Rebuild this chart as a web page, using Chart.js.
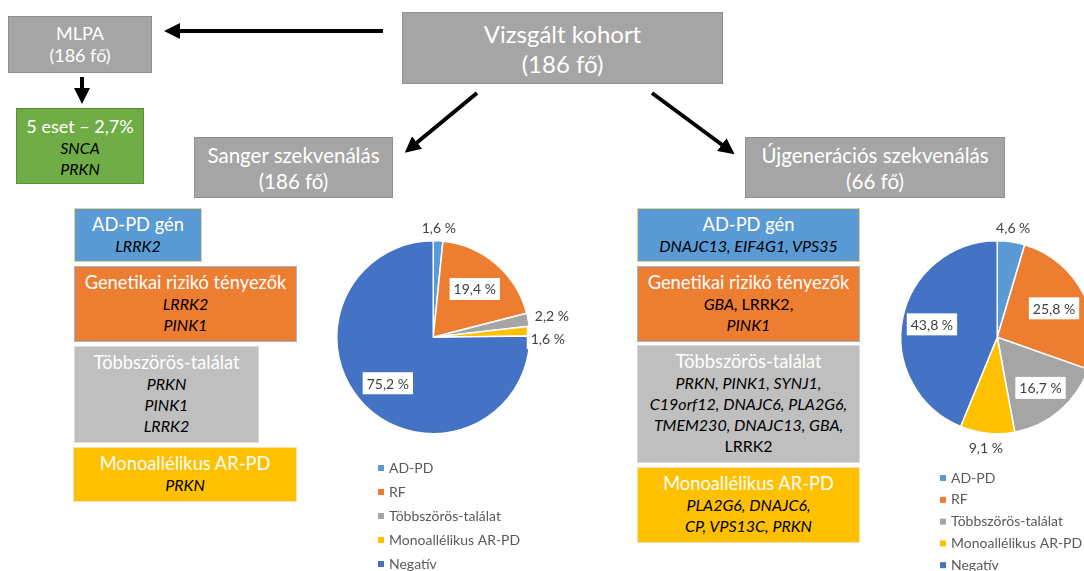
<!DOCTYPE html>
<html lang="hu">
<head>
<meta charset="utf-8">
<script src="https://cdn.jsdelivr.net/npm/chart.js@4.4.1/dist/chart.umd.min.js"></script>
<style>
  html, body { margin: 0; padding: 0; background: #fff; }
  body { width: 1084px; height: 571px; position: relative; overflow: hidden; font-family: Lato, "Open Sans", sans-serif; }
  .box { position: absolute; box-sizing: border-box; text-align: center; color: #fff; }
  .hdr { background: #a5a5a5; border: 1px solid #8f8f8f; }
  .gene { color: #000; font-style: italic; font-size: 16px; line-height: 21px; }
  .cat { font-size: 18.3px; line-height: 22px; padding-top: 4px; }
  .blue { background: #5b9bd5; border: 1px solid #e6d38a; }
  .orange { background: #ed7d31; border: 1px solid #9db6d9; }
  .grey { background: #bfbfbf; border: 1px solid #d9d9d9; }
  .yellow { background: #ffc000; border: 1px solid #f2e2b0; }
  .green { background: #70ad47; border: 1px solid #5a8f38; }
  .up { font-style: normal; }
  canvas { position: absolute; }
  svg { position: absolute; left: 0; top: 0; }
</style>
</head>
<body>

<!-- flow boxes -->
<div class="box hdr" style="left:8px;top:16px;width:144px;height:57px;font-size:18px;line-height:22px;padding-top:5px;">MLPA<br>(186 fő)</div>
<div class="box green" style="left:16px;top:108px;width:128px;height:76px;padding-top:6px;">
  <div style="font-size:18px;line-height:22px;">5 eset – 2,7%</div>
  <div class="gene">SNCA<br>PRKN</div>
</div>
<div class="box hdr" style="left:402px;top:12px;width:321px;height:72px;font-size:24px;line-height:30px;padding-top:6px;">Vizsgált kohort<br>(186 fő)</div>
<div class="box hdr" style="left:194px;top:137px;width:199px;height:61px;font-size:20.5px;line-height:26px;padding-top:4px;">Sanger szekvenálás<br>(186 fő)</div>
<div class="box hdr" style="left:745px;top:137px;width:260px;height:61px;font-size:20.5px;line-height:26px;padding-top:4px;">Újgenerációs szekvenálás<br>(66 fő)</div>

<!-- Sanger categories -->
<div class="box blue cat" style="left:74px;top:208px;width:128px;height:54px;">AD-PD gén<div class="gene">LRRK2</div></div>
<div class="box orange cat" style="left:74px;top:266px;width:223px;height:76px;">Genetikai rizikó tényezők<div class="gene">LRRK2<br>PINK1</div></div>
<div class="box grey cat" style="left:74px;top:346px;width:185px;height:97px;">Többszörös-találat<div class="gene">PRKN<br>PINK1<br>LRRK2</div></div>
<div class="box yellow cat" style="left:73px;top:447px;width:224px;height:55px;">Monoallélikus AR-PD<div class="gene">PRKN</div></div>

<!-- NGS categories -->
<div class="box blue cat" style="left:637px;top:208px;width:223px;height:54px;">AD-PD gén<div class="gene">DNAJC13, EIF4G1, VPS35</div></div>
<div class="box orange cat" style="left:637px;top:266px;width:223px;height:76px;">Genetikai rizikó tényezők<div class="gene">GBA, <span class="up">LRRK2,</span><br>PINK1</div></div>
<div class="box grey cat" style="left:637px;top:345px;width:223px;height:118px;">Többszörös-találat<div class="gene">PRKN, PINK1, SYNJ1,<br>C19orf12, DNAJC6, PLA2G6,<br>TMEM230, DNAJC13, GBA,<br><span class="up">LRRK2</span></div></div>
<div class="box yellow cat" style="left:637px;top:467px;width:223px;height:76px;">Monoallélikus AR-PD<div class="gene">PLA2G6, DNAJC6,<br>CP, VPS13C, PRKN</div></div>

<!-- arrows -->
<svg width="1084" height="571">
  <defs>
    <marker id="head" markerWidth="4" markerHeight="4" refX="1" refY="2" orient="auto" markerUnits="strokeWidth">
      <path d="M0,0 L4,2 L0,4 z" fill="#000"></path>
    </marker>
  </defs>
  <line x1="383" y1="31" x2="176" y2="31" stroke="#000" stroke-width="4" marker-end="url(#head)"></line>
  <line x1="82" y1="77" x2="82" y2="92" stroke="#000" stroke-width="4" marker-end="url(#head)"></line>
  <line x1="477" y1="93" x2="414" y2="145" stroke="#000" stroke-width="4" marker-end="url(#head)"></line>
  <line x1="652" y1="93" x2="725" y2="147" stroke="#000" stroke-width="4" marker-end="url(#head)"></line>
</svg>

<canvas id="pieSanger" width="270" height="366" style="left:320px;top:205px;"></canvas>
<canvas id="pieNgs" width="260" height="366" style="left:880px;top:205px;"></canvas>

<script>
// categories and values (percent)
const categories = ['AD-PD', 'RF', 'Többszörös-találat', 'Monoallélikus AR-PD', 'Negatív'];
const sangerValues = [1.6, 19.4, 2.2, 1.6, 75.2];
const ngsValues = [4.6, 25.8, 16.7, 9.1, 43.8];
const sliceColors = ['#5b9bd5', '#ed7d31', '#a5a5a5', '#ffc000', '#4472c4'];

// draws the percent labels at a fraction of the radius along each slice's mid angle
const sliceLabels = {
    id: 'sliceLabels',
    afterDatasetsDraw(chart, args, opts) {
        const ctx = chart.ctx;
        const meta = chart.getDatasetMeta(0);
        const values = chart.data.datasets[0].data;
        ctx.save();
        ctx.font = '14px Lato, "Open Sans", sans-serif';
        ctx.textAlign = 'center';
        ctx.textBaseline = 'middle';
        meta.data.forEach((arc, i) => {
            const mid = (arc.startAngle + arc.endAngle) / 2;
            const r = arc.outerRadius * opts.radius[i];
            const x = arc.x + Math.cos(mid) * r + (opts.dx ? opts.dx[i] : 0);
            const y = arc.y + Math.sin(mid) * r + (opts.dy ? opts.dy[i] : 0);
            const text = values[i].toFixed(1).replace('.', ',') + ' %';
            const w = ctx.measureText(text).width + 8;
            ctx.fillStyle = '#fff';
            ctx.fillRect(x - w / 2, y - 11, w, 22);
            ctx.fillStyle = '#404040';
            ctx.fillText(text, x, y + 1);
        });
        ctx.restore();
    }
};

// vertical legend under the pie
const listLegend = {
    id: 'listLegend',
    afterDraw(chart, args, opts) {
        const ctx = chart.ctx;
        const ds = chart.data.datasets[0];
        ctx.save();
        ctx.font = '14px Lato, "Open Sans", sans-serif';
        ctx.textBaseline = 'middle';
        chart.data.labels.forEach((lab, i) => {
            const y = opts.top + i * opts.step;
            ctx.fillStyle = ds.backgroundColor[i];
            ctx.fillRect(opts.left, y - 3, 6, 6);
            ctx.fillStyle = '#595959';
            ctx.fillText(lab, opts.left + 11, y);
        });
        ctx.restore();
    }
};

function makePie(id, values, padding, labelOpts, legendOpts) {
    return new Chart(document.getElementById(id), {
        type: 'pie',
        data: {
            labels: categories,
            datasets: [{
                data: values,
                backgroundColor: sliceColors,
                borderColor: '#fff',
                borderWidth: 1.5
            }]
        },
        options: {
            responsive: false,
            animation: false,
            layout: { padding: padding },
            plugins: {
                legend: { display: false },
                tooltip: { enabled: false },
                sliceLabels: labelOpts,
                listLegend: legendOpts
            }
        },
        plugins: [sliceLabels, listLegend]
    });
}

makePie('pieSanger', sangerValues,
    { left: 16, top: 35, right: 59.5, bottom: 136.5 },
    { radius: [1.14, 0.66, 1.25, 1.19, 0.67], dy: [0, 0, 0, 8, 0] },
    { left: 58, top: 263, step: 24 });

makePie('pieNgs', ngsValues,
    { left: 20, top: 35, right: 45.5, bottom: 136.5 },
    { radius: [1.15, 0.66, 0.69, 1.15, 0.69] },
    { left: 60, top: 273, step: 21.8 });
</script>
</body>
</html>
